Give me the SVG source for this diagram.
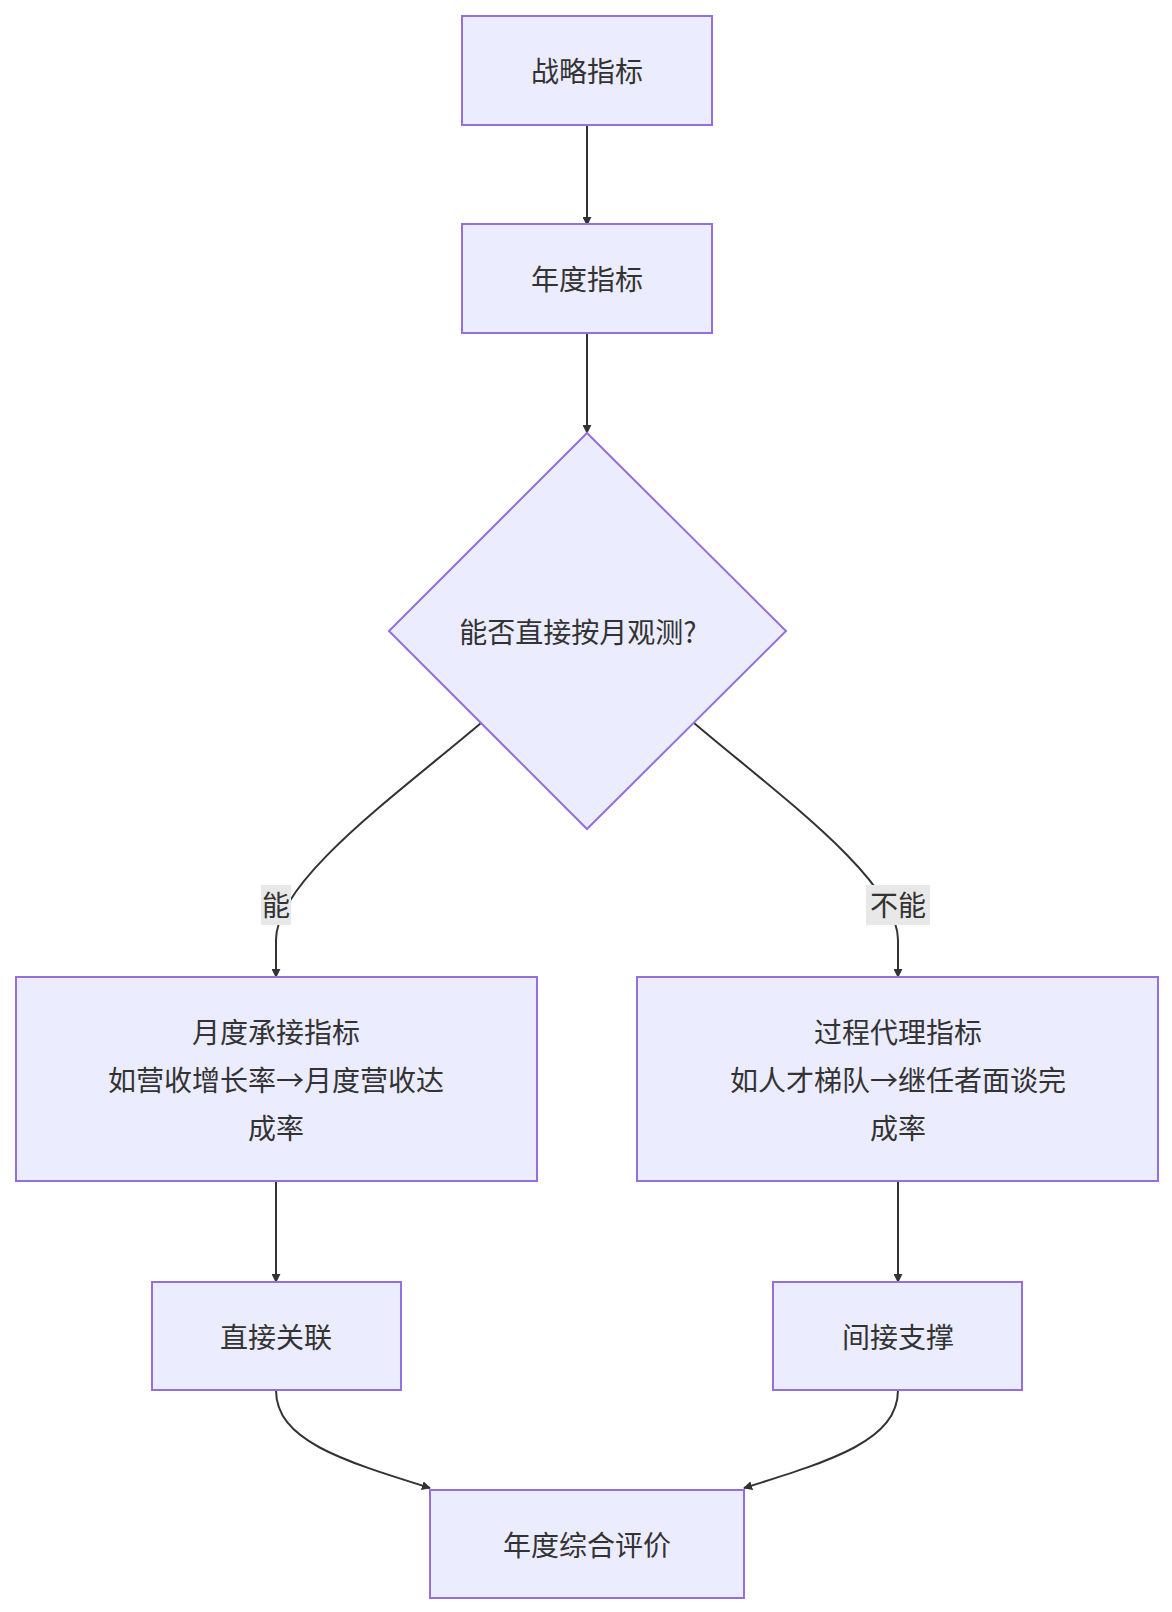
<svg xmlns="http://www.w3.org/2000/svg" width="1172" height="1612" viewBox="0 0 1172 1612">
<style>
.n{fill:#ECECFF;stroke:#9370DB;stroke-width:2}
.t{font-family:"Noto Sans CJK SC","Liberation Sans",sans-serif;font-size:28px;fill:#333;text-anchor:middle;dominant-baseline:central}
.e{fill:none;stroke:#333;stroke-width:2;marker-end:url(#a)}
.lb{fill:#e8e8e8}
</style>
<defs><marker id="a" viewBox="0 0 10 10" refX="9" refY="5" markerWidth="9" markerHeight="9" orient="auto" markerUnits="userSpaceOnUse"><path d="M0,0L10,5L0,10z" fill="#333"/></marker></defs>
<rect width="1172" height="1612" fill="#fff"/>
<g id="edges">
<path class="e" d="M587,125V225"/>
<path class="e" d="M587,333V433"/>
<path class="e" d="M481,723C400,792 276,880 276,940V977"/>
<path class="e" d="M694,723C775,792 898,880 898,940V977"/>
<path class="e" d="M276,1181V1282"/>
<path class="e" d="M898,1181V1282"/>
<path class="e" d="M276,1390C276,1440 340,1460 430,1488"/>
<path class="e" d="M898,1390C898,1440 834,1460 744,1488"/>
<rect class="lb" x="261" y="885" width="30" height="40"/><text class="t" x="276" y="904">能</text>
<rect class="lb" x="866" y="885" width="64" height="40"/><text class="t" x="898" y="904">不能</text>
</g>
<g id="n1"><rect class="n" x="462" y="16" width="250" height="109"/><text class="t" x="587" y="70">战略指标</text></g>
<g id="n2"><rect class="n" x="462" y="224" width="250" height="109"/><text class="t" x="587" y="278">年度指标</text></g>
<g id="n3"><path class="n" d="M587,433L786,631L587,829L389,631Z"/><text class="t" x="578" y="631">能否直接按月观测?</text></g>
<g id="n4"><rect class="n" x="16" y="977" width="521" height="204"/><text class="t" x="276" y="1031">月度承接指标</text><text class="t" x="276" y="1079">如营收增长率→月度营收达</text><text class="t" x="276" y="1127">成率</text></g>
<g id="n5"><rect class="n" x="637" y="977" width="521" height="204"/><text class="t" x="898" y="1031">过程代理指标</text><text class="t" x="898" y="1079">如人才梯队→继任者面谈完</text><text class="t" x="898" y="1127">成率</text></g>
<g id="n6"><rect class="n" x="152" y="1282" width="249" height="108"/><text class="t" x="276" y="1336">直接关联</text></g>
<g id="n7"><rect class="n" x="773" y="1282" width="249" height="108"/><text class="t" x="898" y="1336">间接支撑</text></g>
<g id="n8"><rect class="n" x="430" y="1490" width="314" height="108"/><text class="t" x="587" y="1544">年度综合评价</text></g>
</svg>
